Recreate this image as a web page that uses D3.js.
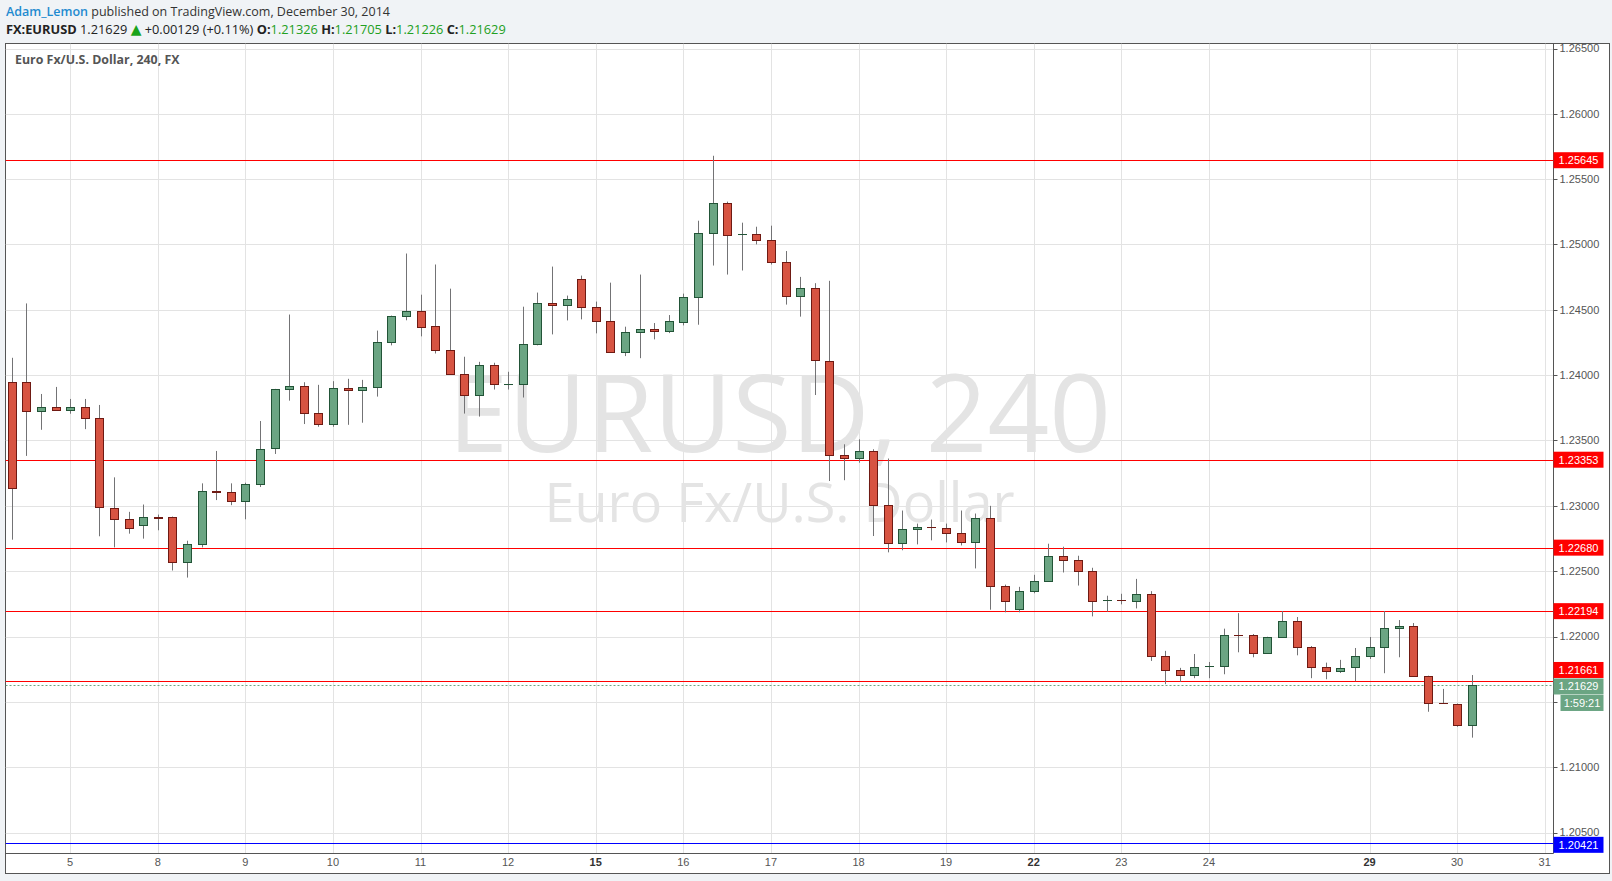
<!DOCTYPE html>
<html><head><meta charset="utf-8">
<script src="https://cdn.jsdelivr.net/npm/d3@7"></script>
<style>body{margin:0;background:#f0f3f6;}svg{display:block}</style>
</head><body><svg id="c" width="1612" height="881"></svg>
<script>
// ---- data (EURUSD 4h bars, Dec 4 - Dec 30 2014) ----
const opens  = [1.23946,1.23946,1.23723,1.23754,1.23731,1.23754,1.23669,1.22985,1.22900,1.22851,
                1.22916,1.22915,1.22569,1.22708,1.23115,1.23108,1.23038,1.23169,1.23438,1.23892,
                1.23915,1.23708,1.23623,1.23900,1.23885,1.23908,1.24254,1.24454,1.24494,1.24376,
                1.24192,1.24008,1.23847,1.24077,1.23931,1.23931,1.24238,1.24552,1.24537,1.24737,
                1.24522,1.24414,1.24176,1.24330,1.24353,1.24338,1.24414,1.24602,1.25088,1.25318,
                1.25075,1.25080,1.25034,1.24865,1.24604,1.24665,1.24112,1.23391,1.23368,1.23422,
                1.23008,1.22715,1.22823,1.22838,1.22831,1.22792,1.22723,1.22908,1.22385,1.22205,
                1.22346,1.22423,1.22618,1.22585,1.22500,1.22274,1.22277,1.22270,1.22324,1.21851,
                1.21744,1.21706,1.21771,1.21775,1.22011,1.22011,1.21874,1.21996,1.22118,1.21920,
                1.21767,1.21737,1.21767,1.21851,1.21920,1.22065,1.22080,1.21698,1.21492,1.21485,
                1.21326];
const highs  = [1.24133,1.24549,1.23856,1.23910,1.23818,1.23818,1.23772,1.23218,1.22954,1.23010,
                1.22933,1.22918,1.22733,1.23172,1.23420,1.23172,1.23177,1.23649,1.23895,1.24464,
                1.23946,1.23926,1.23954,1.23972,1.23964,1.24341,1.24456,1.24931,1.24616,1.24847,
                1.24662,1.24141,1.24102,1.24095,1.24026,1.24524,1.24632,1.24831,1.24609,1.24762,
                1.24563,1.24708,1.24371,1.24770,1.24399,1.24460,1.24624,1.25182,1.25679,1.25328,
                1.25167,1.25136,1.25144,1.24950,1.24752,1.24704,1.24722,1.23471,1.23509,1.23433,
                1.23362,1.22964,1.22864,1.22895,1.22864,1.22964,1.22941,1.23000,1.22397,1.22380,
                1.22472,1.22710,1.22687,1.22618,1.22526,1.22312,1.22327,1.22441,1.22347,1.21890,
                1.21760,1.21866,1.21805,1.22060,1.22179,1.22019,1.21998,1.22195,1.22149,1.21927,
                1.21800,1.21821,1.21912,1.21996,1.22195,1.22126,1.22103,1.21700,1.21599,1.21487,
                1.21705];
const lows   = [1.22741,1.23382,1.23582,1.23730,1.23705,1.23587,1.22767,1.22682,1.22787,1.22749,
                1.22813,1.22505,1.22451,1.22682,1.23044,1.23005,1.22897,1.23144,1.23397,1.23805,
                1.23626,1.23605,1.23605,1.23620,1.23636,1.23836,1.24228,1.24420,1.24297,1.24166,
                1.24005,1.23706,1.23683,1.23890,1.23890,1.23829,1.24228,1.24312,1.24419,1.24427,
                1.24320,1.24174,1.24146,1.24130,1.24274,1.24322,1.24381,1.24386,1.24839,1.24770,
                1.24801,1.25001,1.24847,1.24540,1.24448,1.23848,1.23190,1.23196,1.23330,1.22769,
                1.22644,1.22660,1.22705,1.22736,1.22720,1.22697,1.22521,1.22205,1.22185,1.22185,
                1.22331,1.22420,1.22490,1.22390,1.22154,1.22190,1.22246,1.22215,1.21813,1.21635,
                1.21653,1.21681,1.21681,1.21711,1.21879,1.21841,1.21866,1.21994,1.21856,1.21681,
                1.21673,1.21721,1.21658,1.21828,1.21719,1.21841,1.21695,1.21424,1.21488,1.21309,
                1.21226];
const closes = [1.23131,1.23723,1.23754,1.23731,1.23754,1.23669,1.22985,1.22900,1.22831,1.22915,
                1.22912,1.22569,1.22708,1.23115,1.23110,1.23038,1.23169,1.23438,1.23892,1.23915,
                1.23708,1.23623,1.23900,1.23885,1.23908,1.24254,1.24454,1.24494,1.24373,1.24192,
                1.24008,1.23847,1.24077,1.23931,1.23933,1.24238,1.24552,1.24537,1.24583,1.24522,
                1.24414,1.24176,1.24330,1.24353,1.24338,1.24414,1.24602,1.25088,1.25318,1.25072,
                1.25078,1.25034,1.24865,1.24604,1.24665,1.24112,1.23391,1.23368,1.23422,1.23008,
                1.22715,1.22823,1.22838,1.22835,1.22792,1.22723,1.22908,1.22385,1.22274,1.22346,
                1.22423,1.22618,1.22585,1.22500,1.22270,1.22277,1.22274,1.22324,1.21851,1.21744,
                1.21706,1.21767,1.21773,1.22011,1.22009,1.21874,1.21996,1.22118,1.21920,1.21767,
                1.21737,1.21760,1.21851,1.21920,1.22065,1.22080,1.21698,1.21492,1.21490,1.21324,
                1.21629];
const dayTickIndex  = [4,10,16,22,28,34,40,46,52,58,64,70,76,82,93,99,105];
const dayTickLabels = ["5","8","9","10","11","12","15","16","17","18","19","22","23","24","29","30","31"];
const boldDayLabels = ["15","22","29"];
const priceTicks = [1.205,1.210,1.215,1.220,1.225,1.230,1.235,1.240,1.245,1.250,1.255,1.260,1.265];
const redLevels  = [1.25645,1.23353,1.22680,1.22194,1.21661];
const blueLevel  = 1.20421;
const lastPrice  = 1.21629;
const countdown  = "1:59:21";

// ---- layout ----
const svg = d3.select("#c");
const plot = {l:5.5, t:43.5, r:1553.5, b:853.5};
const outer = {r:1609.5, b:873.5};
const x = d3.scaleLinear().domain([0,105]).range([11.7,1544.7]);
const y = d3.scaleLinear().domain([1.205,1.265]).range([832.5,48.5]);
const bars = opens.map((o,i)=>({i,o,h:highs[i],l:lows[i],c:closes[i]}));

const GREEN="#6ba583", GREEN_D="#225437", RED="#d75442", RED_D="#6f1a13", WICK="#737375";

svg.append("rect").attr("x",plot.l).attr("y",plot.t).attr("width",outer.r-plot.l).attr("height",outer.b-plot.t)
   .attr("fill","#fff").attr("stroke","#555").attr("stroke-width",1);

svg.append("defs").append("clipPath").attr("id","pc").append("rect")
   .attr("x",plot.l).attr("y",plot.t).attr("width",plot.r-plot.l).attr("height",plot.b-plot.t);
const g = svg.append("g").attr("clip-path","url(#pc)");

// gridlines
g.selectAll("line.hg").data(priceTicks).join("line")
  .attr("x1",plot.l).attr("x2",plot.r).attr("y1",d=>Math.round(y(d))+0.5).attr("y2",d=>Math.round(y(d))+0.5)
  .attr("stroke","#e3e3e3");
g.selectAll("line.vg").data(dayTickIndex).join("line")
  .attr("y1",plot.t).attr("y2",plot.b).attr("x1",d=>Math.round(x(d))+0.5).attr("x2",d=>Math.round(x(d))+0.5)
  .attr("stroke","#e3e3e3");

// watermark
const cx = (plot.l+plot.r)/2;
g.append("text").attr("x",cx).attr("y",452).attr("text-anchor","middle")
  .attr("font-family","'Open Sans'").attr("font-size",108).attr("fill","#e4e4e4").text("EURUSD, 240");
g.append("text").attr("x",cx).attr("y",522).attr("text-anchor","middle")
  .attr("font-family","'Open Sans'").attr("font-size",54).attr("fill","#e4e4e4").text("Euro Fx/U.S. Dollar");

// level lines
g.selectAll("line.lv").data(redLevels).join("line")
  .attr("x1",plot.l).attr("x2",plot.r).attr("y1",d=>Math.round(y(d))+0.5).attr("y2",d=>Math.round(y(d))+0.5)
  .attr("stroke","#ff0000").attr("stroke-width",1.2);
g.append("line").attr("x1",plot.l).attr("x2",plot.r)
  .attr("y1",Math.round(y(blueLevel))+0.5).attr("y2",Math.round(y(blueLevel))+0.5)
  .attr("stroke","#0000ff").attr("stroke-width",1.2);
g.append("line").attr("x1",plot.l).attr("x2",plot.r)
  .attr("y1",Math.round(y(lastPrice))+0.5).attr("y2",Math.round(y(lastPrice))+0.5)
  .attr("stroke",GREEN).attr("stroke-dasharray","2,2");

// candles
const cg = g.append("g");
cg.selectAll("line.wick").data(bars).join("line")
  .attr("x1",d=>Math.round(x(d.i))+0.5).attr("x2",d=>Math.round(x(d.i))+0.5)
  .attr("y1",d=>y(d.h)).attr("y2",d=>y(d.l)).attr("stroke",WICK).attr("stroke-width",1);
cg.selectAll("rect.body").data(bars).join("rect")
  .attr("x",d=>Math.round(x(d.i))-3.5).attr("width",8)
  .attr("y",d=>Math.round(y(Math.max(d.o,d.c)))+0.5)
  .attr("height",d=>Math.max(0.01,Math.round(Math.abs(y(d.o)-y(d.c)))))
  .attr("fill",d=>d.c>=d.o?GREEN:RED).attr("stroke",d=>d.c>=d.o?GREEN_D:RED_D).attr("stroke-width",1);

// inner axis lines
svg.append("line").attr("x1",plot.r).attr("x2",plot.r).attr("y1",plot.t).attr("y2",plot.b).attr("stroke","#555");
svg.append("line").attr("x1",plot.l).attr("x2",plot.r).attr("y1",plot.b).attr("y2",plot.b).attr("stroke","#555");

const AXF = "'Liberation Sans', Arial, sans-serif";

// tags on the price axis
const lastY = y(lastPrice)+1.5;
const tags = [];
redLevels.forEach(v=>{
  let cy = y(v);
  if (Math.abs(cy-lastY)<16) cy = lastY-16.5;
  tags.push({cy, txt:v.toFixed(5), fill:"#ff0000", x0:plot.r, w:50});
});
tags.push({cy:lastY, txt:lastPrice.toFixed(5), fill:GREEN, x0:plot.r, w:50});
tags.push({cy:lastY+16.5, txt:countdown, fill:GREEN, x0:plot.r+7, w:43});
tags.push({cy:y(blueLevel)+2, txt:blueLevel.toFixed(5), fill:"#0000ff", x0:plot.r, w:50});

// price axis (labels hidden under tags are dropped, as on the source)
const visibleTicks = priceTicks.filter(p=>!tags.some(t=>Math.abs(t.cy-y(p))<10));
const pa = svg.append("g");
pa.selectAll("line").data(priceTicks).join("line")
  .attr("x1",plot.r).attr("x2",plot.r+4).attr("y1",d=>Math.round(y(d))+0.5).attr("y2",d=>Math.round(y(d))+0.5).attr("stroke","#555");
pa.selectAll("text").data(visibleTicks).join("text")
  .attr("x",plot.r+6).attr("y",d=>y(d)).attr("dy","0.35em")
  .attr("font-family",AXF).attr("font-size",11).attr("fill","#555").text(d=>d.toFixed(5));

tags.forEach(t=>{
  const tg = svg.append("g");
  tg.append("rect").attr("x",t.x0).attr("y",t.cy-8).attr("width",t.w).attr("height",16).attr("fill",t.fill);
  tg.append("text").attr("x",t.x0+t.w/2).attr("y",t.cy).attr("dy","0.36em").attr("text-anchor","middle")
    .attr("font-family",AXF).attr("font-size",11).attr("fill","#fff").text(t.txt);
});

// time axis
svg.append("g").selectAll("text").data(dayTickIndex).join("text")
  .attr("x",d=>x(d)).attr("y",866).attr("text-anchor","middle")
  .attr("font-family",AXF).attr("font-size",11)
  .attr("fill",(d,i)=>boldDayLabels.includes(dayTickLabels[i])?"#333":"#555")
  .attr("font-weight",(d,i)=>boldDayLabels.includes(dayTickLabels[i])?"bold":"normal")
  .text((d,i)=>dayTickLabels[i]);

// header
const HF = "'Open Sans', sans-serif";
const h1 = svg.append("text").attr("x",6).attr("y",16).attr("font-family",HF).attr("font-size",12.5).attr("fill","#333");
h1.append("tspan").attr("fill","#1f8bd0").attr("font-weight",600).text("Adam_Lemon");
h1.append("tspan").text(" published on TradingView.com, December 30, 2014");

const h2 = svg.append("text").attr("x",6).attr("y",34).attr("font-family",HF).attr("font-size",12.8).attr("fill","#222");
const GV = "#22a022";
h2.append("tspan").attr("font-weight","bold").text("FX:EURUSD");
h2.append("tspan").text(" 1.21629 ");
h2.append("tspan").attr("fill","#1aa31a").attr("font-family","'DejaVu Sans'").attr("font-size",14).text("▲");
h2.append("tspan").text(" +0.00129 (+0.11%) ");
[["O:","1.21326"],["H:","1.21705"],["L:","1.21226"],["C:","1.21629"]].forEach(([k,v],i)=>{
  h2.append("tspan").attr("font-weight","bold").text((i?" ":"")+k);
  h2.append("tspan").attr("fill",GV).text(v);
});

// chart title inside
svg.append("text").attr("x",15).attr("y",64).attr("font-family",HF).attr("font-size",12.4)
  .attr("font-weight","bold").attr("fill","#555").text("Euro Fx/U.S. Dollar, 240, FX");
</script></body></html>
